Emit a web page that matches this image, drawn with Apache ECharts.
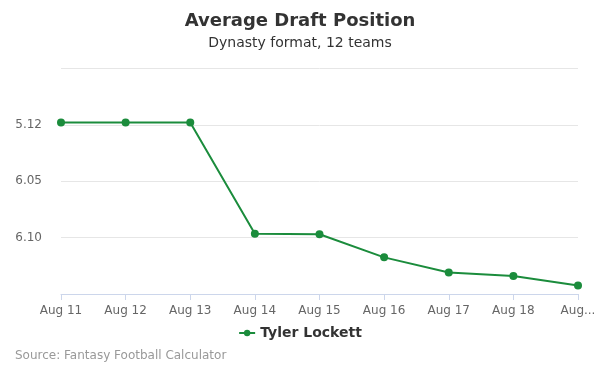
<!DOCTYPE html>
<html>
<head>
<meta charset="utf-8">
<script src="https://cdn.jsdelivr.net/npm/echarts@6/dist/echarts.min.js"></script>
<style>
	html, body { margin: 0; padding: 0; background: #fff; }
	#chart { width: 600px; height: 375px; }
</style>
</head>
<body>
<div id="chart"></div>
<script>
var categories = ['Aug 11', 'Aug 12', 'Aug 13', 'Aug 14', 'Aug 15', 'Aug 16', 'Aug 17', 'Aug 18', 'Aug 19'];
// overall pick number (12 teams per round)
var adpPicks = [59.8, 59.8, 59.8, 69.65, 69.7, 71.75, 73.1, 73.4, 74.25];
var yMin = 55, yMax = 75, yStep = 5;
var teams = 12;

function pickLabel(v) {
	var r = Math.floor((v - 1) / teams) + 1;
	var p = Math.round(v - (r - 1) * teams);
	return r + '.' + (p < 10 ? '0' + p : p);
}

var chart = echarts.init(document.getElementById('chart'));
var font = 'DejaVu Sans';
var green = '#1b8c3c';

chart.setOption({
	animation: false,
	textStyle: { fontFamily: font },
	title: {
		text: 'Average Draft Position',
		subtext: 'Dynasty format, 12 teams',
		left: 'center',
		top: 7,
		itemGap: 6,
		textStyle: { fontSize: 18, fontWeight: 'bold', color: '#333', fontFamily: font },
		subtextStyle: { fontSize: 14, color: '#333', fontFamily: font }
	},
	legend: {
		bottom: 30,
		left: 'center',
		itemWidth: 16,
		itemHeight: 8,
		textStyle: { fontSize: 14, fontWeight: 'bold', color: '#333', fontFamily: font },
		data: ['Tyler Lockett']
	},
	graphic: [{
		type: 'text',
		left: 15,
		top: 350,
		style: { text: 'Source: Fantasy Football Calculator', fill: '#999', fontSize: 12, fontFamily: font }
	}],
	grid: { left: 61, right: 22, top: 68.5, bottom: 81 },
	xAxis: {
		type: 'category',
		boundaryGap: false,
		data: categories,
		axisLine: { lineStyle: { color: '#ccd6eb', width: 1 } },
		axisTick: { show: true, length: 6, lineStyle: { color: '#ccd6eb' } },
		axisLabel: {
			color: '#666', fontSize: 12, margin: 11,
			formatter: function (v, i) { return i === categories.length - 1 ? 'Aug...' : v; }
		},
		splitLine: { show: false }
	},
	yAxis: {
		type: 'value',
		inverse: true,
		min: yMin,
		max: yMax,
		interval: yStep,
		axisLine: { show: false },
		axisTick: { show: false },
		axisLabel: {
			color: '#666', fontSize: 12, margin: 19,
			showMinLabel: false, showMaxLabel: false,
			formatter: pickLabel
		},
		splitLine: { lineStyle: { color: '#e6e6e6' } }
	},
	series: [{
		name: 'Tyler Lockett',
		type: 'line',
		data: adpPicks,
		color: green,
		symbol: 'circle',
		symbolSize: 8,
		lineStyle: { width: 2, color: green },
		itemStyle: { color: green }
	}]
});
</script>
</body>
</html>
